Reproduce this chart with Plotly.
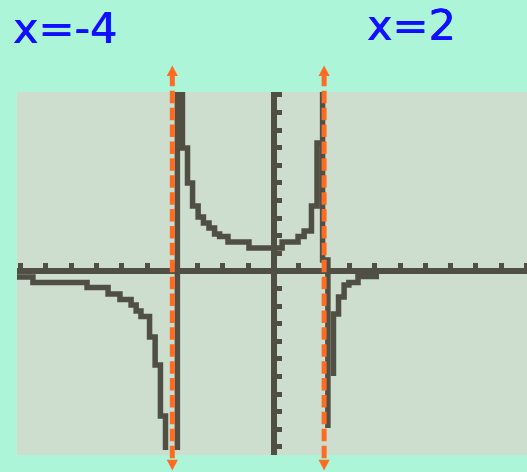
import plotly.graph_objects as go

# ---- data (window -10..10) ----
left_x = [-10.2, -9.51, -7.37, -6.54, -6.07, -5.63, -5.43, -5.24, -4.90, -4.68, -4.47, -4.27]
left_y = [-0.34, -0.65, -0.94, -1.31, -1.62, -1.93, -2.27, -2.59, -3.75, -5.34, -8.24, -10.17]

mid_x = [-3.80, -3.80, -3.60, -3.40, -3.20, -2.98, -2.77, -2.55, -2.33, -2.13, -1.80, -0.97,
         0.34, 0.97, 1.21, 1.50, 1.72, 1.94, 1.94, 2.15]
mid_y = [-10.17, 10.4, 6.99, 5.00, 3.69, 3.07, 2.73, 2.44, 2.10, 1.96, 1.65, 1.31,
         1.65, 1.96, 2.27, 3.69, 7.27, 10.4, 0.63, -8.92]

right_x = [2.37, 2.37, 2.57, 2.79, 2.98, 3.34, 4.17]
right_y = [-5.97, -2.44, -1.48, -0.80, -0.65, -0.31, -0.31]

asymptotes = [-4, 2]
asym_labels = ["x=-4", "x=2"]

# ---- styling ----
BG = "#adf5d9"
SCREEN = "#cddecf"
INK = "#504f43"
ORANGE = "#ff6b22"
BLUE = "#1010ff"

X0, X1 = -10.14, 10.02
Y0, Y1 = -10.455, 10.17


def xp(x):
    return (x - X0) / (X1 - X0)


def yp(y):
    return (y - Y0) / (Y1 - Y0)


fig = go.Figure()
for xs, ys in [(left_x, left_y), (mid_x, mid_y), (right_x, right_y)]:
    fig.add_trace(go.Scatter(x=xs, y=ys, mode="lines",
                             line=dict(color=INK, width=5.5, shape="hv", simplify=False),
                             hoverinfo="skip", showlegend=False))

shapes = []
line_top, line_bot = 11.2, -10.73
arrow_top_base, arrow_top_tip = 11.08, 11.68
arrow_bot_base, arrow_bot_tip = -10.73, -11.33
half_w = 0.22
for a in asymptotes:
    shapes.append(dict(type="line", xref="paper", yref="paper", layer="above",
                       x0=xp(a), x1=xp(a), y0=yp(line_top), y1=yp(line_bot),
                       line=dict(color=ORANGE, width=5, dash="12.5px,4.4px")))
    for base, tip in [(arrow_top_base, arrow_top_tip), (arrow_bot_base, arrow_bot_tip)]:
        path = "M{:.5f},{:.5f} L{:.5f},{:.5f} L{:.5f},{:.5f} Z".format(
            xp(a - half_w), yp(base), xp(a + half_w), yp(base), xp(a), yp(tip))
        shapes.append(dict(type="path", xref="paper", yref="paper", layer="above",
                           path=path, fillcolor=ORANGE, line=dict(width=0)))

label_font = dict(family="DejaVu Sans", size=43, color=BLUE,
                  shadow="0.35px 0 0 " + BLUE + ", -0.35px 0 0 " + BLUE)
annotations = [
    dict(text=asym_labels[0], xref="paper", yref="paper", x=(11 - 17) / 510, y=(455 - 28) / 363,
         xanchor="left", yanchor="middle", showarrow=False, font=label_font),
    dict(text=asym_labels[1], xref="paper", yref="paper", x=(365 - 17) / 510, y=(455 - 25) / 363,
         xanchor="left", yanchor="middle", showarrow=False, font=label_font),
]

fig.update_layout(
    width=527, height=472,
    margin=dict(l=17, r=0, t=92, b=17),
    paper_bgcolor=BG, plot_bgcolor=SCREEN,
    shapes=shapes, annotations=annotations,
    xaxis=dict(range=[X0, X1], side="top", anchor="free", position=yp(0),
               showline=True, linecolor=INK, linewidth=6,
               ticks="outside", ticklen=5, tickwidth=5, tickcolor=INK,
               tick0=0, dtick=1, showticklabels=False,
               showgrid=False, zeroline=False, fixedrange=True),
    yaxis=dict(range=[Y0, Y1], side="right", anchor="free", position=xp(0),
               showline=True, linecolor=INK, linewidth=6,
               ticks="outside", ticklen=5, tickwidth=5, tickcolor=INK,
               tick0=0, dtick=1, showticklabels=False,
               showgrid=False, zeroline=False, fixedrange=True),
)

fig.write_html("out.html", config={"displayModeBar": False},
               post_script="document.body.style.margin='0';document.body.style.background='" + BG + "';")
